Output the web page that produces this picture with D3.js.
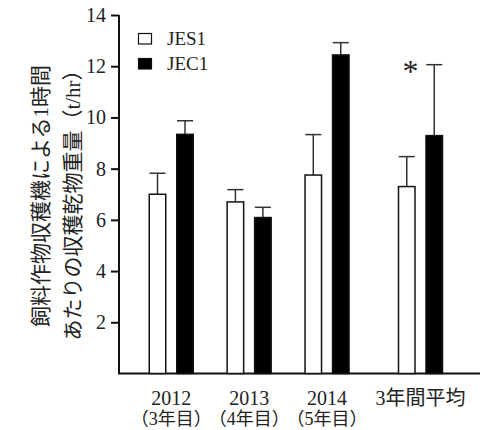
<!DOCTYPE html>
<html>
<head>
<meta charset="utf-8">
<script src="https://cdn.jsdelivr.net/npm/d3@7"></script>
<style>
  body { margin: 0; background: #fff; }
  svg text { fill: #222; font-family: "Liberation Serif", "Noto Sans CJK JP", serif; }
</style>
</head>
<body>
<div id="chart"></div>
<script>
const categories = ['2012', '2013', '2014', '3年間平均']
const subLabels = ['（3年目）', '（4年目）', '（5年目）', '']
const slots = [0, 1, 2, 3.2]
const jes1 = [7.0, 6.7, 7.75, 7.3]
const jes1Err = [0.82, 0.48, 1.58, 1.17]
const jec1 = [9.34, 6.09, 12.44, 9.29]
const jec1Err = [0.53, 0.4, 0.48, 2.77]
const yTicks = [2, 4, 6, 8, 10, 12, 14]
const seriesNames = ['JES1', 'JEC1']

const WIDTH = 496
const HEIGHT = 430
const BAR_W = 16.5
const OFFSET = 13.75

const svg = d3.select('#chart')
  .append('svg')
  .attr('width', WIDTH)
  .attr('height', HEIGHT)

const y = d3.scaleLinear().domain([0, 14]).range([373.5, 15])
const x = d3.scaleLinear().domain([0, 3.2]).range([171.25, 420.5])

// axes
const yAxis = svg.append('g')
  .attr('transform', 'translate(119,0)')
  .call(d3.axisLeft(y).tickValues(yTicks).tickSize(8).tickPadding(5).tickFormat(d3.format('d')))
yAxis.attr('font-family', null)
yAxis.select('.domain').attr('stroke', '#111').attr('stroke-width', 2).attr('d', `M0,${y(0)}V${y(14)}`)
yAxis.selectAll('.tick line').attr('stroke', '#111').attr('stroke-width', 2)
yAxis.selectAll('.tick text')
  .attr('font-size', 20)
  .attr('fill', '#222')

svg.append('line')
  .attr('x1', 118).attr('x2', 480)
  .attr('y1', y(0)).attr('y2', y(0))
  .attr('stroke', '#111').attr('stroke-width', 2)

// bars
const groups = svg.append('g')
  .selectAll('g')
  .data(categories)
  .join('g')

const series = [
  { values: jes1, errs: jes1Err, dx: -OFFSET, fill: '#fff' },
  { values: jec1, errs: jec1Err, dx: OFFSET, fill: '#000' }
]

series.forEach(s => {
  groups.append('line')
    .attr('x1', (d, i) => x(slots[i]) + s.dx)
    .attr('x2', (d, i) => x(slots[i]) + s.dx)
    .attr('y1', (d, i) => y(s.values[i]))
    .attr('y2', (d, i) => y(s.values[i] + s.errs[i]))
    .attr('stroke', '#333').attr('stroke-width', 1.5)
  groups.append('line')
    .attr('x1', (d, i) => x(slots[i]) + s.dx - 8)
    .attr('x2', (d, i) => x(slots[i]) + s.dx + 8)
    .attr('y1', (d, i) => y(s.values[i] + s.errs[i]))
    .attr('y2', (d, i) => y(s.values[i] + s.errs[i]))
    .attr('stroke', '#333').attr('stroke-width', 1.5)
  groups.append('rect')
    .attr('x', (d, i) => x(slots[i]) + s.dx - BAR_W / 2)
    .attr('width', BAR_W)
    .attr('y', (d, i) => y(s.values[i]))
    .attr('height', (d, i) => y(0) - y(s.values[i]))
    .attr('fill', s.fill)
    .attr('stroke', '#111')
    .attr('stroke-width', 1.5)
})

// significance mark
svg.append('text')
  .attr('x', x(slots[3]) - 10)
  .attr('y', y(jec1[3] + jec1Err[3]) + 17)
  .attr('text-anchor', 'middle')
  .attr('font-size', 32)
  .text('*')

// category labels
groups.append('text')
  .attr('x', (d, i) => x(slots[i]))
  .attr('y', 405)
  .attr('text-anchor', 'middle')
  .attr('font-size', 20)
  .text(d => d)
groups.append('text')
  .attr('x', (d, i) => x(slots[i]))
  .attr('y', 425)
  .attr('text-anchor', 'middle')
  .attr('font-size', 18)
  .text((d, i) => subLabels[i])

// legend
const legend = svg.append('g')
seriesNames.forEach((name, i) => {
  legend.append('rect')
    .attr('x', 138.5).attr('y', 33.5 + i * 25)
    .attr('width', 13).attr('height', 10.5)
    .attr('fill', series[i].fill)
    .attr('stroke', '#111').attr('stroke-width', 1.2)
  legend.append('text')
    .attr('x', 167).attr('y', 45 + i * 25)
    .attr('font-size', 19)
    .text(name)
})

// y axis title
const title = svg.append('g')
  .attr('transform', 'translate(56,196) rotate(-90)')
  .attr('font-size', 21)
  .attr('text-anchor', 'middle')
title.append('text').attr('y', -8).text('飼料作物収穫機による1時間')
title.append('text').attr('x', -4).attr('y', 24).text('あたりの収穫乾物重量（t/hr）')
</script>
</body>
</html>
